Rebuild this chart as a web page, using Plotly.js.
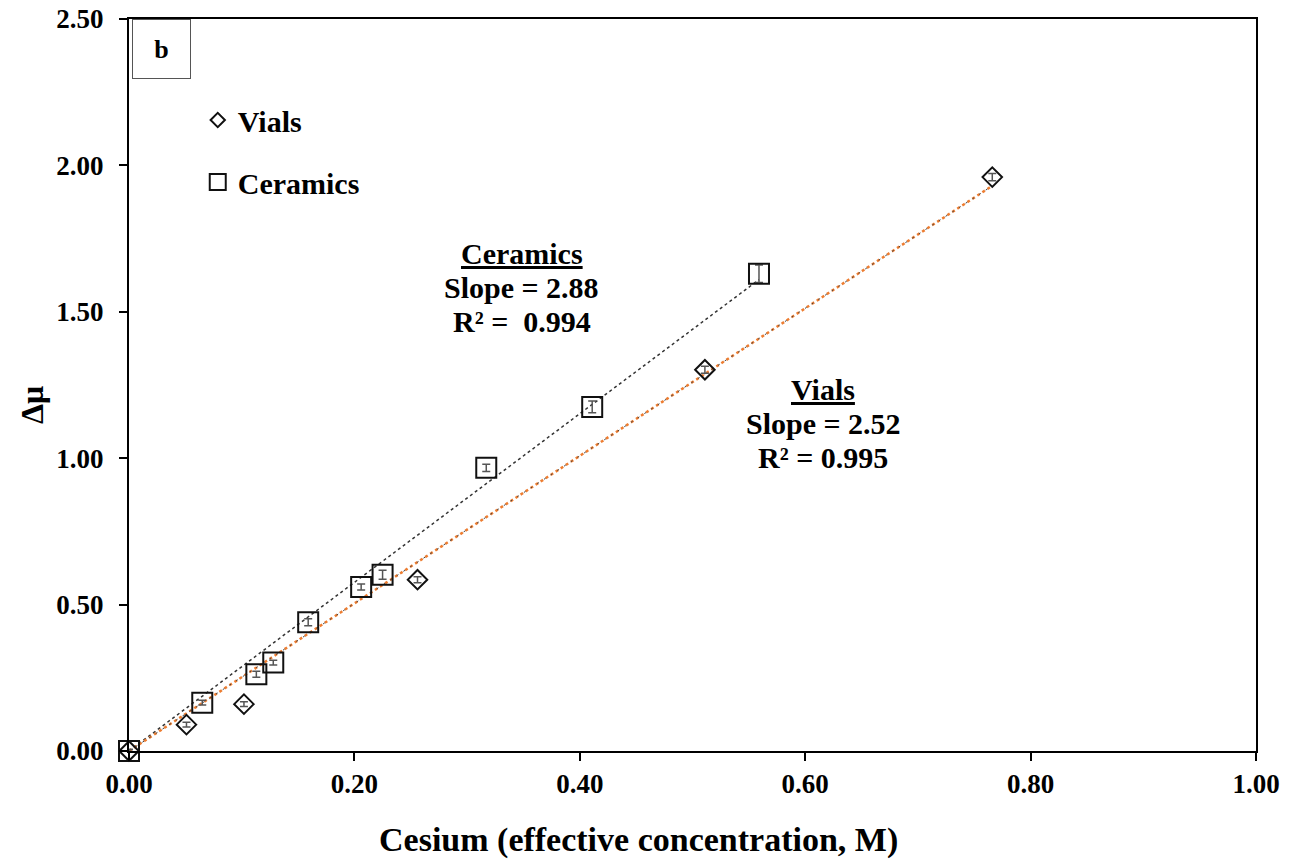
<!DOCTYPE html>
<html>
<head>
<meta charset="utf-8">
<script src="https://cdn.plot.ly/plotly-3.0.1.min.js"></script>
<style>html,body{margin:0;padding:0;background:#fff;}#chart{width:1296px;height:862px;}</style>
</head>
<body>
<div id="chart"></div>
<script>
// Vials data
var vialsX = [0.000, 0.051, 0.102, 0.256, 0.511, 0.766];
var vialsY = [0.000, 0.090, 0.160, 0.585, 1.302, 1.960];
var vialsErr = [0.005, 0.008, 0.008, 0.010, 0.012, 0.012];
// Ceramics data
var ceramX = [0.000, 0.065, 0.113, 0.128, 0.159, 0.206, 0.225, 0.317, 0.411, 0.559];
var ceramY = [0.000, 0.165, 0.262, 0.302, 0.440, 0.560, 0.602, 0.967, 1.175, 1.630];
var ceramErr = [0.005, 0.008, 0.010, 0.008, 0.012, 0.010, 0.015, 0.012, 0.020, 0.030];
// Linear fits (through origin)
var vialsSlope = 2.52;
var ceramSlope = 2.88;
var xTicks = [0, 0.2, 0.4, 0.6, 0.8, 1.0];
var yTicks = [0, 0.5, 1.0, 1.5, 2.0, 2.5];
var ceramLabel = ['<u>Ceramics</u>', 'Slope = 2.88', 'R² =  0.994'];
var vialsLabel = ['<u>Vials</u>', 'Slope = 2.52', 'R² = 0.995'];

var FONT = 'Liberation Serif';

function fitLine(xs, slope) {
  var xmax = Math.max.apply(null, xs);
  return {x: [0, xmax], y: [0, slope * xmax]};
}
var vFit = fitLine(vialsX, vialsSlope);
var cFit = fitLine(ceramX, ceramSlope);

var traces = [
  {x: cFit.x, y: cFit.y, mode: 'lines', showlegend: false, hoverinfo: 'skip',
   line: {color: '#333333', width: 1.5, dash: 'dot'}},
  {x: vFit.x, y: vFit.y, mode: 'lines', showlegend: false, hoverinfo: 'skip',
   line: {color: '#ED7D31', width: 2.5, dash: 'dot'}},
  {x: vFit.x, y: vFit.y, mode: 'lines', showlegend: false, hoverinfo: 'skip',
   line: {color: '#444444', width: 1, dash: '2px,6px'}},
  {x: vialsX, y: vialsY, mode: 'markers', name: 'Vials', showlegend: false, cliponaxis: false,
   error_y: {type: 'data', array: vialsErr, color: '#555555', thickness: 1.5, width: 4},
   marker: {symbol: 'diamond-open', size: 15, color: '#111111', line: {width: 2, color: '#111111'}}},
  {x: ceramX, y: ceramY, mode: 'markers', name: 'Ceramics', showlegend: false, cliponaxis: false,
   error_y: {type: 'data', array: ceramErr, color: '#555555', thickness: 1.5, width: 4},
   marker: {symbol: 'square-open', size: 20, color: '#111111', line: {width: 2, color: '#111111'}}},
  // legend entries
  {x: [null], y: [null], mode: 'markers', name: 'Vials', legendgroup: 'v',
   marker: {symbol: 'diamond-open', size: 11, color: '#111111', line: {width: 2, color: '#111111'}}},
  {x: [null], y: [null], mode: 'markers', name: 'Ceramics', legendgroup: 'c',
   marker: {symbol: 'square-open', size: 17, color: '#111111', line: {width: 2, color: '#111111'}}}
];

var axisCommon = {
  showgrid: false, zeroline: false, showline: true, linecolor: '#000', linewidth: 2,
  mirror: true, ticks: 'outside', ticklen: 8, tickwidth: 2, tickcolor: '#000',
  tickfont: {family: FONT, size: 27, color: '#000', weight: 'bold'}
};

var annotations = [
  {xref: 'paper', yref: 'paper', x: 0.0025, y: 1, xanchor: 'left', yanchor: 'top',
   text: 'b', showarrow: false, width: 55, height: 56, bordercolor: '#555', borderwidth: 1,
   font: {family: FONT, size: 26, weight: 'bold', color: '#000'}},
  {xref: 'paper', yref: 'paper', x: 0.4517, y: -0.1497, xanchor: 'center', yanchor: 'bottom',
   text: 'Cesium (effective concentration, M)', showarrow: false,
   font: {family: FONT, size: 34, weight: 'bold', color: '#000'}},
  {xref: 'paper', yref: 'paper', x: -0.0861, y: 0.4727, xanchor: 'center', yanchor: 'middle',
   text: 'Δμ', showarrow: false, textangle: -90,
   font: {family: FONT, size: 32, weight: 'bold', color: '#000'}}
];
var ceramLineY = [1.700, 1.584, 1.468];
var vialsLineY = [1.236, 1.120, 1.004];
ceramLabel.forEach(function(t, i) {
  annotations.push({xref: 'x', yref: 'y', x: 0.3487, y: ceramLineY[i], xanchor: 'center', yanchor: 'middle',
    text: t, showarrow: false, font: {family: FONT, size: 30, weight: 'bold', color: '#000'}});
});
vialsLabel.forEach(function(t, i) {
  annotations.push({xref: 'x', yref: 'y', x: 0.6158, y: vialsLineY[i], xanchor: 'center', yanchor: 'middle',
    text: t, showarrow: false, font: {family: FONT, size: 30, weight: 'bold', color: '#000'}});
});

var layout = {
  width: 1296, height: 862,
  margin: {l: 129, r: 40, t: 19, b: 111},
  paper_bgcolor: '#fff', plot_bgcolor: '#fff',
  font: {family: FONT, color: '#000'},
  xaxis: Object.assign({}, axisCommon, {range: [0, 1], tickvals: xTicks, tickformat: '.2f', ticklabelstandoff: 0}),
  yaxis: Object.assign({}, axisCommon, {range: [0, 2.5], tickvals: yTicks, tickformat: '.2f', ticklabelstandoff: 10}),
  showlegend: true,
  legend: {x: 0.061, y: 0.8975, xanchor: 'left', yanchor: 'top', bgcolor: 'rgba(0,0,0,0)',
    traceorder: 'grouped', tracegroupgap: 20, itemwidth: 30,
    font: {family: FONT, size: 30, color: '#000', weight: 'bold'}},
  annotations: annotations
};

Plotly.newPlot('chart', traces, layout, {displayModeBar: false, staticPlot: true});
</script>
</body>
</html>
